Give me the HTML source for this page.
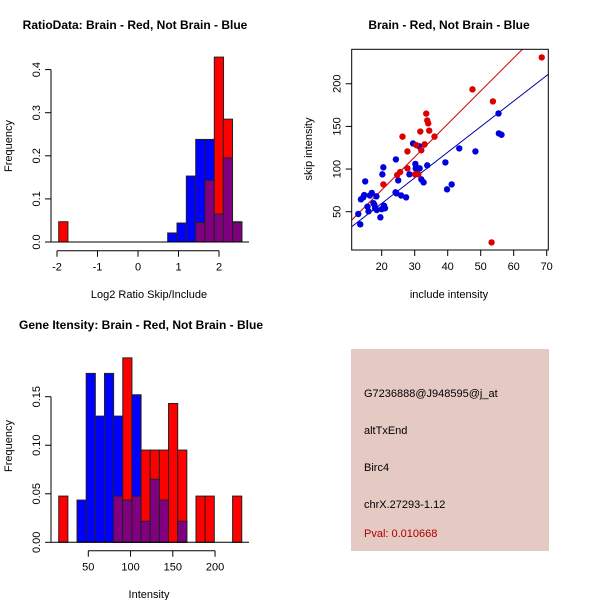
<!DOCTYPE html>
<html><head><meta charset="utf-8"><style>
body{margin:0;background:#fff;}
svg{display:block;font-family:"Liberation Sans",sans-serif;}
</style></head><body>
<svg id="c" width="600" height="600" viewBox="0 0 600 600">
<rect x="351" y="349" width="198" height="202" fill="#e5c9c3"/>
<g font-size="11" fill="#000">
<text x="364" y="397">G7236888@J948595@j_at</text>
<text x="364" y="434">altTxEnd</text>
<text x="364" y="471">Birc4</text>
<text x="364" y="508">chrX.27293-1.12</text>
<text x="364" y="537" fill="#aa0000">Pval: 0.010668</text>
</g>
</svg>
<script>
// ---- Top-left histogram data ----
const ratioBins = [-1.958, 0.733, 0.963, 1.193, 1.425, 1.654, 1.884, 2.106, 2.338];
const ratioRed  = [0.047, 0, 0, 0, 0.045, 0.143, 0.429, 0.285, 0.047];
const ratioBlue = [0, 0.021, 0.044, 0.153, 0.238, 0.238, 0.065, 0.195, 0.045];
const ratioXTicks = [-2, -1, 0, 1, 2];
const ratioYTicks = ["0.0", "0.1", "0.2", "0.3", "0.4"];
// ---- Bottom-left histogram data ----
const intBins = [15,25.83,36.66,47.49,58.32,69.15,79.98,90.81,101.64,112.47,123.3,134.13,144.96,155.79,166.62,177.45,188.28,199.11,209.94,220.77];
const intRed  = [0.0476,0,0,0,0,0,0.0476,0.19,0.0476,0.095,0.095,0.095,0.143,0.095,0,0.0476,0.0476,0,0,0.0476];
const intBlue = [0,0,0.0435,0.174,0.13,0.174,0.13,0.0435,0.152,0.0217,0.065,0.0435,0,0.0217,0,0,0,0,0,0];
const intXTicks = [50, 100, 150, 200];
const intYTicks = ["0.00", "0.05", "0.10", "0.15"];
// ---- Scatter data ----
const redX = [68.5,47.5,53.7,53.3,33.5,33.8,34.1,34.4,31.7,26.3,36,33,30.5,32,27.8,27.8,30.1,31.1,25.6,24.7,20.5];
const redY = [230.9,193.4,179.3,14,165,157,153.5,145,144,138,138,129,128,122,120.7,100.8,93.8,93.8,96.5,93,82];
const blueX = [12.9,13.5,13.7,14.4,14.7,15,15.7,16.4,17,16,17.5,18,18.5,20,21,17.8,18.4,19.6,20.2,20.5,20.7,24.3,24.2,24.5,25,25.9,27.4,28.4,29.5,30.2,30.3,31,31.5,31.4,32,32.7,33.8,39.3,39.8,41.2,43.5,48.4,55.4,55.5,56.3];
const blueY = [47.3,35.2,64.5,66.8,69.5,85.5,55.9,69,72,50.4,60,54,52,53,54,58,68,43.4,93.8,102,57,111.3,72.7,71.5,86.7,69,66.8,93.8,130,106,100.8,100.8,100.8,126.6,87.9,84.4,104.3,107.8,76.2,82,124.2,120.7,165.2,141.8,140.2];
const redFit = [-2.0, 3.87];
const blueFit = [-0.3, 3.0];
const scXTicks = [20,30,40,50,60,70];
const scYTicks = [50,100,150,200];

const NS = "http://www.w3.org/2000/svg";
const svg = document.getElementById('c');
function el(tag, attrs, parent) {
  const e = document.createElementNS(NS, tag);
  for (const k in attrs) e.setAttribute(k, attrs[k]);
  (parent || svg).appendChild(e);
  return e;
}
function txt(s, x, y, attrs, parent) {
  const t = el('text', Object.assign({x: x, y: y}, attrs || {}), parent);
  t.textContent = s;
  return t;
}

function histogram(name, bins, w, red, blue, sx, sy, g) {
  for (let i = 0; i < bins.length; i++) {
    const r = red[i], b = blue[i];
    const x0 = sx(bins[i]), x1 = sx(bins[i] + w);
    const hi = Math.max(r, b), lo = Math.min(r, b);
    if (hi > 0) {
      const rc = el('rect', {x: x0, y: sy(hi), width: x1 - x0, height: sy(0) - sy(hi), fill: r >= b ? '#ff0000' : '#0000ff', stroke: '#222', 'stroke-width': 1}, g);
      
      
    }
    if (lo > 0) {
      const pc = el('rect', {x: x0, y: sy(lo), width: x1 - x0, height: sy(0) - sy(lo), fill: '#800080', stroke: '#222', 'stroke-width': 1}, g);
      
      
    }
  }
}

function yAxis(x, ticks, sy, g) {
  const vals = ticks.map(Number);
  el('line', {x1: x, x2: x, y1: sy(vals[0]), y2: sy(vals[vals.length - 1]), stroke: '#000'}, g);
  ticks.forEach(t => {
    el('line', {x1: x - 6, x2: x, y1: sy(+t), y2: sy(+t), stroke: '#000'}, g);
    txt(t, 0, 0, {'font-size': 11, 'text-anchor': 'middle', transform: 'translate(' + (x - 11) + ',' + sy(+t) + ') rotate(-90)'}, g);
  });
}
function xAxis(y, ticks, sx, g) {
  el('line', {x1: sx(ticks[0]), x2: sx(ticks[ticks.length - 1]), y1: y, y2: y, stroke: '#000'}, g);
  ticks.forEach(t => {
    el('line', {x1: sx(t), x2: sx(t), y1: y, y2: y + 6, stroke: '#000'}, g);
    txt(String(t), sx(t), y + 20, {'font-size': 11, 'text-anchor': 'middle'}, g);
  });
}

// ---- Panel 1 ----
{
  const g = el('g', {});
  
  
  const sx = v => 57 + (v + 2) * 40.5;
  const sy = v => 242 - v * 431;
  histogram('ratio', ratioBins, 0.228, ratioRed, ratioBlue, sx, sy, g);
  el('line', {x1: 51, x2: 249, y1: 242, y2: 242, stroke: '#000'}, g);
  yAxis(51, ratioYTicks, sy, g);
  xAxis(250.7, ratioXTicks, sx, g);
  const t1 = txt('RatioData: Brain - Red, Not Brain - Blue', 135, 29, {'font-size': 12, 'font-weight': 'bold', 'text-anchor': 'middle'}, g);
  
  
  txt('Log2 Ratio Skip/Include', 149, 298, {'font-size': 11, 'text-anchor': 'middle'}, g);
  txt('Frequency', 0, 0, {'font-size': 11, 'text-anchor': 'middle', transform: 'translate(12,146) rotate(-90)'}, g);
}
// ---- Panel 3 ----
{
  const g = el('g', {});
  
  
  const sx = v => 88.3 + (v - 50) * 0.845;
  const sy = v => 542.3 - v * 970.7;
  histogram('intensity', intBins, 10.83, intRed, intBlue, sx, sy, g);
  el('line', {x1: 51, x2: 249, y1: 542.3, y2: 542.3, stroke: '#000'}, g);
  yAxis(51, intYTicks, sy, g);
  xAxis(550.7, intXTicks, sx, g);
  const t3 = txt('Gene Itensity: Brain - Red, Not Brain - Blue', 141, 329, {'font-size': 12, 'font-weight': 'bold', 'text-anchor': 'middle'}, g);
  
  
  txt('Intensity', 149, 598, {'font-size': 11, 'text-anchor': 'middle'}, g);
  txt('Frequency', 0, 0, {'font-size': 11, 'text-anchor': 'middle', transform: 'translate(12,446) rotate(-90)'}, g);
}
// ---- Panel 2 ----
{
  const g = el('g', {});
  
  
  const sx = v => 381.7 + (v - 20) * 3.3;
  const sy = v => 211.7 - (v - 50) * 0.853;
  const L = 351.7, R = 548.3, T = 49.3, B = 250;
  const defs = el('defs', {}, g);
  const cp = el('clipPath', {id: 'sc'}, defs);
  el('rect', {x: L, y: T, width: R - L, height: B - T}, cp);
  const xmin = 10, xmax = 75;
  const rl = el('line', {x1: sx(xmin), y1: sy(redFit[0] + redFit[1] * xmin), x2: sx(xmax), y2: sy(redFit[0] + redFit[1] * xmax), stroke: '#cc0000', 'clip-path': 'url(#sc)'}, g);
  
  
  const bl = el('line', {x1: sx(xmin), y1: sy(blueFit[0] + blueFit[1] * xmin), x2: sx(xmax), y2: sy(blueFit[0] + blueFit[1] * xmax), stroke: '#0000aa', 'clip-path': 'url(#sc)'}, g);
  
  
  blueX.forEach((x, i) => {
    const c = el('circle', {cx: sx(x), cy: sy(blueY[i]), r: 3.2, fill: '#0000dd'}, g);
    
    
  });
  redX.forEach((x, i) => {
    const c = el('circle', {cx: sx(x), cy: sy(redY[i]), r: 3.2, fill: '#dd0000'}, g);
    
    
  });
  el('rect', {x: L, y: T, width: R - L, height: B - T, fill: 'none', stroke: '#000'}, g);
  scXTicks.forEach(t => {
    el('line', {x1: sx(t), x2: sx(t), y1: B, y2: B + 6, stroke: '#000'}, g);
    txt(String(t), sx(t), B + 20, {'font-size': 11, 'text-anchor': 'middle'}, g);
  });
  scYTicks.forEach(t => {
    el('line', {x1: L - 6, x2: L, y1: sy(t), y2: sy(t), stroke: '#000'}, g);
    txt(String(t), 0, 0, {'font-size': 11, 'text-anchor': 'middle', transform: 'translate(' + (L - 11) + ',' + sy(t) + ') rotate(-90)'}, g);
  });
  const t2 = txt('Brain - Red, Not Brain - Blue', 449, 29, {'font-size': 12, 'font-weight': 'bold', 'text-anchor': 'middle'}, g);
  
  
  txt('include intensity', 449, 298, {'font-size': 11, 'text-anchor': 'middle'}, g);
  txt('skip intensity', 0, 0, {'font-size': 11, 'text-anchor': 'middle', transform: 'translate(312,149) rotate(-90)'}, g);
}
</script>
</body></html>
